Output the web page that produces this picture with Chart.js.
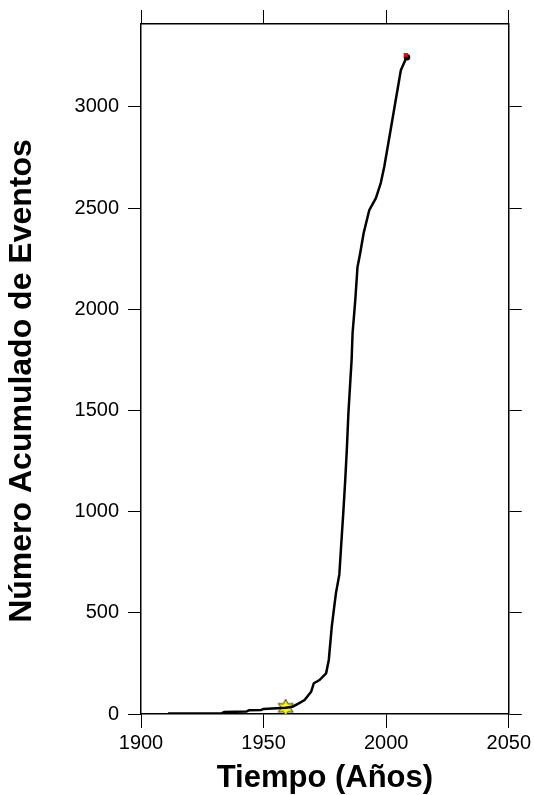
<!DOCTYPE html>
<html>
<head>
<meta charset="utf-8">
<title>Número Acumulado de Eventos</title>
<script src="https://cdn.jsdelivr.net/npm/chart.js@4/dist/chart.umd.min.js"></script>
<style>
    body { margin: 0; background: #fff; }
    canvas { display: block; }
</style>
</head>
<body>
<canvas id="eventosChart" width="534" height="795"></canvas>
<script>
// datos
const anios = [1911, 1925, 1933, 1934, 1943, 1944, 1949, 1950, 1959, 1961.8, 1964, 1966.7, 1969.4, 1970.5, 1972.8,
    1975.5, 1976.6, 1977.8, 1978.5, 1979.5, 1980.9, 1981.6, 1982.5, 1983.3, 1984, 1984.6, 1985.4, 1985.9, 1986.3,
    1987.4, 1988.3, 1989.4, 1990.8, 1993.1, 1995.8, 1997.8, 1999.2, 2001.6, 2003.9, 2006, 2008.4];
const eventos = [2, 3, 4, 10, 12, 18, 20, 25, 31, 36, 50, 69, 110, 152, 168,
    201, 267, 431, 500, 596, 690, 825, 993, 1156, 1319, 1487, 1650, 1749, 1883,
    2045, 2208, 2277, 2376, 2490, 2549, 2624, 2703, 2871, 3034, 3182, 3248];
const estrella = [1959, 31];
const finalRojo = [2008, 3256];
const finalNegro = [2008.5, 3246];
const ticksX = [1900, 1950, 2000, 2050];
const ticksY = [0, 500, 1000, 1500, 2000, 2500, 3000];
const tituloY = 'Número Acumulado de Eventos';

//===============================================================
// estrella amarilla como imagen
function hacerEstrella() {
    const c = document.createElement('canvas');
    c.width = 18; c.height = 18;
    const g = c.getContext('2d');
    g.beginPath();
    for (let i = 0; i < 12; i++) {
        const r = i % 2 === 0 ? 8.5 : 4.5;
        const a = -Math.PI / 2 + i * Math.PI / 6;
        const px = 9 + r * Math.cos(a), py = 9 + r * Math.sin(a);
        if (i === 0) g.moveTo(px, py); else g.lineTo(px, py);
    }
    g.closePath();
    g.fillStyle = '#ffff00';
    g.fill();
    g.lineWidth = 0.8;
    g.strokeStyle = '#000';
    g.stroke();
    return c;
}

// titulo vertical dibujado a mano (un poco mas abajo que el centro del eje)
const tituloVertical = {
    id: 'tituloVertical',
    afterDraw(chart) {
        const c = chart.ctx;
        c.save();
        c.translate(22, 381);
        c.rotate(-Math.PI / 2);
        c.font = 'bold 32px "Liberation Sans", Arial, sans-serif';
        c.fillStyle = '#000';
        c.textAlign = 'center';
        c.textBaseline = 'middle';
        c.fillText(tituloY, 0, 0);
        c.restore();
    }
};

const puntos = anios.map((a, i) => ({ x: a, y: eventos[i] }));

function ejeX(pos) {
    return {
        type: 'linear', position: pos, min: ticksX[0], max: ticksX[ticksX.length - 1],
        afterBuildTicks: s => { s.ticks = ticksX.map(v => ({ value: v })); },
        afterFit: s => { s.height = pos === 'bottom' ? 81 : 24; },
        grid: { drawOnChartArea: false, tickLength: 14, color: '#000', lineWidth: 1 },
        border: { color: '#000', width: 1.5 },
        ticks: {
            display: pos === 'bottom', color: '#000', padding: 3,
            font: { family: 'Liberation Sans, Arial, sans-serif', size: 20 },
            callback: v => String(v)
        },
        title: {
            display: pos === 'bottom', text: 'Tiempo (Años)', color: '#000',
            font: { family: 'Liberation Sans, Arial, sans-serif', size: 31, weight: 'bold', lineHeight: 1 },
            padding: { top: 0, bottom: 1.5 }
        }
    };
}

function ejeY(pos) {
    return {
        type: 'linear', position: pos, min: 0, max: 3410,
        afterBuildTicks: s => { s.ticks = ticksY.map(v => ({ value: v })); },
        afterFit: s => { s.width = pos === 'left' ? 141 : 24; },
        grid: { drawOnChartArea: false, tickLength: 13, color: '#000', lineWidth: 1 },
        border: { color: '#000', width: 1.5 },
        ticks: {
            display: pos === 'left', color: '#000', padding: 9,
            font: { family: 'Liberation Sans, Arial, sans-serif', size: 20 },
            callback: v => String(v)
        },
        title: { display: false }
    };
}

var ctx = document.getElementById('eventosChart').getContext('2d');
var eventosChart = new Chart(ctx, {
    type: 'line',
    data: {
        datasets: [
            {
                data: puntos, borderColor: '#000', borderWidth: 2.5,
                pointRadius: 0, tension: 0, fill: false
            },
            {
                data: [{ x: estrella[0], y: estrella[1] }], showLine: false,
                pointStyle: hacerEstrella(), pointRadius: 9
            },
            {
                data: [{ x: finalRojo[0], y: finalRojo[1] }], showLine: false,
                pointStyle: 'rect', pointRadius: 3, backgroundColor: '#ff0000', borderColor: '#ff0000', borderWidth: 0
            },
            {
                data: [{ x: finalNegro[0], y: finalNegro[1] }], showLine: false,
                pointStyle: 'circle', pointRadius: 3.2, backgroundColor: '#000', borderColor: '#000', borderWidth: 0
            }
        ]
    },
    options: {
        responsive: false,
        animation: false,
        layout: { padding: 0 },
        plugins: { legend: { display: false }, tooltip: { enabled: false } },
        scales: {
            x: ejeX('bottom'),
            x2: ejeX('top'),
            y: ejeY('left'),
            y2: ejeY('right')
        }
    },
    plugins: [tituloVertical]
});
</script>
</body>
</html>
